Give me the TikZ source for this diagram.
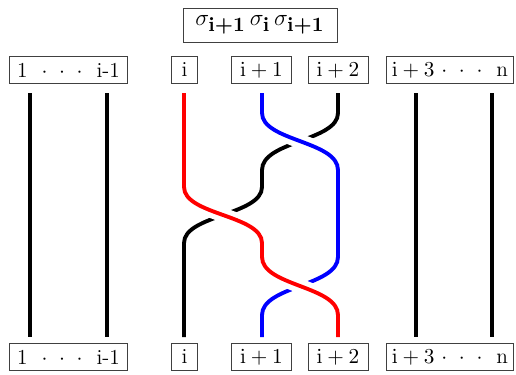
\documentclass[tikz,border=0pt]{standalone}
\usepackage{amsmath}
\usepackage{tikz}

\newcommand{\ind}[1]{\text{\fontsize{10.5}{12}\selectfont\bfseries #1}}

\begin{document}
\begin{tikzpicture}[
	x=0.0181cm, y=-0.0181cm,
	rotulo/.style={draw=black!75, line width=0.5pt, rectangle, inner sep=1pt, minimum height=13.9pt, font=\fontsize{11}{13}\selectfont},
	fio/.style={line width=2pt},
	cruza/.style={line width=2pt, preaction={draw=white, line width=7.5pt}}
	]
	\useasboundingbox (0,0) rectangle (516,374);

	\node[rotulo, minimum width=79.3pt, minimum height=17.5pt, font=\fontsize{13}{15}\selectfont] (sigma) at (260,25) {$\sigma_{\ind{i+1}}\,\sigma_{\ind{i}}\,\sigma_{\ind{i+1}}$};

	\node[rotulo, minimum width=60.3pt] (t1) at (68.5,70) {1 \ $\cdot\ \cdot\ \cdot$ \ i-1};
	\node[rotulo, minimum width=12.9pt] (ti) at (184.5,70) {i};
	\node[rotulo, minimum width=30.4pt] (ti1) at (261.5,70) {$\mathrm{i+1}$};
	\node[rotulo, minimum width=30.9pt] (ti2) at (338,70) {$\mathrm{i+2}$};
	\node[rotulo, minimum width=64.9pt] (tn) at (450,70) {$\mathrm{i+3}$ $\cdot\ \cdot\ \cdot$ \ n};

	\node[rotulo, minimum width=60.3pt] (b1) at (68.5,357) {1 \ $\cdot\ \cdot\ \cdot$ \ i-1};
	\node[rotulo, minimum width=12.9pt] (bi) at (184.5,357) {i};
	\node[rotulo, minimum width=30.4pt] (bi1) at (261.5,357) {$\mathrm{i+1}$};
	\node[rotulo, minimum width=30.9pt] (bi2) at (338,357) {$\mathrm{i+2}$};
	\node[rotulo, minimum width=64.9pt] (bn) at (450,357) {$\mathrm{i+3}$ $\cdot\ \cdot\ \cdot$ \ n};

	\coordinate (a1) at (30,93);
	\coordinate (a2) at (107,93);
	\coordinate (a3) at (184,93);
	\coordinate (a4) at (262,93);
	\coordinate (a5) at (338,93);
	\coordinate (a6) at (416,93);
	\coordinate (a7) at (492,93);
	\coordinate (z1) at (30,337);
	\coordinate (z2) at (107,337);
	\coordinate (z3) at (184,337);
	\coordinate (z4) at (262,337);
	\coordinate (z5) at (338,337);
	\coordinate (z6) at (416,337);
	\coordinate (z7) at (492,337);

	\draw[fio] (a1) -- (z1);
	\draw[fio] (a2) -- (z2);
	\draw[fio] (a6) -- (z6);
	\draw[fio] (a7) -- (z7);

	\draw[cruza, black] (a5) -- (338,113) .. controls (338,141) and (262,141) .. (262,170) -- (262,187) .. controls (262,215) and (184,215) .. (184,243) -- (z3);
	\draw[cruza, blue] (a4) -- (262,113) .. controls (262,141) and (338,141) .. (338,170) -- (338,257) .. controls (338,286) and (262,286) .. (262,315) -- (z4);
	\draw[cruza, red] (a3) -- (184,187) .. controls (184,215) and (262,215) .. (262,243) -- (262,257) .. controls (262,286) and (338,286) .. (338,315) -- (z5);
\end{tikzpicture}
\end{document}
